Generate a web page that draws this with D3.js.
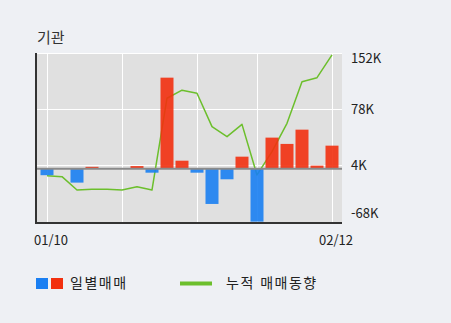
<!DOCTYPE html>
<html lang="ko">
<head>
<meta charset="UTF-8">
<title>기관</title>
<script src="https://d3js.org/d3.v7.min.js"></script>
<style>
  body { margin: 0; background: #eef0f4; font-family: "Noto Sans CJK KR", sans-serif; }
</style>
</head>
<body>
<div id="chart"></div>
<script>
// trading days shown on the x axis
const dates = ["01/10", "01/13", "01/14", "01/15", "01/16", "01/17", "01/20", "01/21", "01/22", "01/23",
               "01/24", "01/31", "02/03", "02/04", "02/05", "02/06", "02/07", "02/10", "02/11", "02/12"];
// daily net buying (K)
const daily = [-9, 0, -18.8, 2, 0, 0, 3, -5.7, 119.5, 10.1, -5.7, -46.9, -14.4, 15.4, -70.2, 40.5, 32.2, 51, 3.6, 29.9];
// cumulative trend (K)
const cumulative = [-9.6, -10.9, -28.5, -27.6, -27.6, -28.5, -24.1, -28.5, 92.4, 103, 99, 55, 41.8, 58, -8.7, 22, 59.4, 114, 119.5, 149.5];
const yTicks = [152, 78, 4, -68];
const xLabels = ["01/10", "02/12"];
const gridDates = ["01/10", "01/17", "01/24", "02/05", "02/12"];

const width = 451, height = 323;
const plotL = 36, plotR = 342, plotT = 53, plotB = 223;

const svg = d3.select("#chart").append("svg")
    .attr("width", width)
    .attr("height", height);

const x = d3.scalePoint().domain(dates).range([47, 332]);
const y = d3.scaleLinear().domain([-72, 152]).range([plotB, plotT]);

// title
svg.append("text")
    .attr("x", 37).attr("y", 43)
    .attr("font-size", 15)
    .attr("fill", "#333")
    .text("기관");

// plot background
svg.append("rect")
    .attr("x", plotL).attr("y", plotT)
    .attr("width", plotR - plotL).attr("height", plotB - plotT)
    .attr("fill", "#e0e0e0");

// grid
svg.append("g").selectAll("line")
    .data(yTicks.filter(d => d > -68))
    .join("line")
    .attr("x1", plotL).attr("x2", plotR)
    .attr("y1", d => Math.round(y(d)) + 0.5).attr("y2", d => Math.round(y(d)) + 0.5)
    .attr("stroke", "#fff");

svg.append("g").selectAll("line")
    .data(gridDates)
    .join("line")
    .attr("x1", d => Math.round(x(d)) + 0.5).attr("x2", d => Math.round(x(d)) + 0.5)
    .attr("y1", plotT).attr("y2", plotB)
    .attr("stroke", "#fff");

// cumulative line (under bars)
svg.append("path")
    .datum(cumulative)
    .attr("fill", "none")
    .attr("stroke", "#6cbf2c")
    .attr("stroke-width", 1.5)
    .attr("stroke-linejoin", "round")
    .attr("d", d3.line().x((d, i) => x(dates[i])).y(d => y(d)));

// daily bars
const barW = 13;
svg.append("g").selectAll("rect")
    .data(daily)
    .join("rect")
    .attr("x", (d, i) => x(dates[i]) - barW / 2)
    .attr("y", d => y(Math.max(0, d)))
    .attr("width", barW)
    .attr("height", d => Math.abs(y(d) - y(0)))
    .attr("fill", d => d >= 0 ? "#f2300f" : "#1a7ff2")
    .attr("fill-opacity", 0.9);

// zero line
svg.append("line")
    .attr("x1", plotL).attr("x2", plotR)
    .attr("y1", y(0) + 0.5).attr("y2", y(0) + 0.5)
    .attr("stroke", "#8a8a8a")
    .attr("stroke-width", 2);

// axis frame
svg.append("line")
    .attr("x1", plotL).attr("x2", plotL)
    .attr("y1", plotT).attr("y2", plotB + 1)
    .attr("stroke", "#333").attr("stroke-width", 2);
svg.append("line")
    .attr("x1", plotL).attr("x2", plotR)
    .attr("y1", plotB).attr("y2", plotB)
    .attr("stroke", "#333").attr("stroke-width", 2);

// right axis labels
svg.append("g").selectAll("text")
    .data(yTicks)
    .join("text")
    .attr("x", 351)
    .attr("y", d => Math.min(Math.max(y(d) + 1, 59), 214))
    .attr("dominant-baseline", "middle")
    .attr("font-size", 13)
    .attr("fill", "#222")
    .text(d => d + "K");

// x labels
svg.append("g").selectAll("text")
    .data(xLabels)
    .join("text")
    .attr("x", d => x(d) + 4)
    .attr("y", 241)
    .attr("text-anchor", "middle")
    .attr("dominant-baseline", "middle")
    .attr("font-size", 13)
    .attr("fill", "#222")
    .text(d => d);

// legend
const lg = svg.append("g");
lg.append("rect").attr("x", 36).attr("y", 278).attr("width", 12).attr("height", 11).attr("fill", "#1a7ff2");
lg.append("rect").attr("x", 51).attr("y", 278).attr("width", 12).attr("height", 11).attr("fill", "#f2300f");
lg.append("text").attr("x", 70).attr("y", 284).attr("dominant-baseline", "middle")
    .attr("font-size", 14).attr("letter-spacing", 1.5).attr("fill", "#222").text("일별매매");
lg.append("line").attr("x1", 180).attr("x2", 212).attr("y1", 283.5).attr("y2", 283.5)
    .attr("stroke", "#6cbf2c").attr("stroke-width", 4);
lg.append("text").attr("x", 226).attr("y", 284).attr("dominant-baseline", "middle")
    .attr("font-size", 14).attr("letter-spacing", 1.5).attr("fill", "#222").text("누적 매매동향");
</script>
</body>
</html>
